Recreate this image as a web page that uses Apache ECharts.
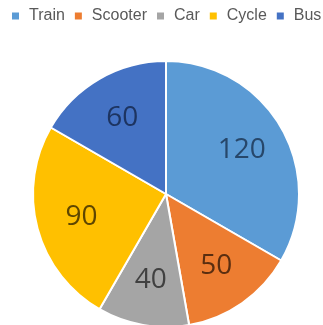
<!DOCTYPE html>
<html>
<head>
<meta charset="utf-8">
<script src="https://cdn.jsdelivr.net/npm/echarts@6/dist/echarts.min.js"></script>
<style>
  html, body { margin: 0; padding: 0; background: #fff; }
  #chart { width: 323px; height: 325px; }
</style>
</head>
<body>
<div id="chart"></div>
<script>
// Commute modes and their counts
const categories = ['Train', 'Scooter', 'Car', 'Cycle', 'Bus'];
const values = [120, 50, 40, 90, 60];

// Slice fills and the darker tone used for each slice's number
const sliceColors = ['#5B9BD5', '#ED7D31', '#A5A5A5', '#FFC000', '#4472C4'];
const labelColors = ['#27476a', '#5a2e10', '#404040', '#5e4600', '#1d3461'];

const LEGEND_FONT = '"Liberation Sans", Arial, sans-serif';
const LABEL_FONT = '"Open Sans", "Liberation Sans", sans-serif';

const chart = echarts.init(document.getElementById('chart'), null, { renderer: 'canvas' });

const sliceData = categories.map((name, i) => ({
  name,
  value: values[i],
  itemStyle: { color: sliceColors[i] }
}));

const labelData = categories.map((name, i) => ({
  name,
  value: values[i],
  label: { color: labelColors[i] }
}));

chart.setOption({
  animation: false,
  color: sliceColors,
  legend: {
    data: categories,
    top: 8,
    left: 12,
    width: 400,
    padding: 0,
    icon: 'rect',
    itemWidth: 7,
    itemHeight: 7,
    itemGap: 10,
    itemStyle: { borderWidth: 0, borderColor: 'rgba(0,0,0,0)' },
    textStyle: {
      fontFamily: LEGEND_FONT,
      fontSize: 16,
      color: '#595959',
      padding: [0, 0, 0, 5]
    }
  },
  series: [
    {
      type: 'pie',
      center: [166, 194],
      radius: [0, 133],
      startAngle: 90,
      clockwise: true,
      avoidLabelOverlap: false,
      label: { show: false },
      labelLine: { show: false },
      itemStyle: { borderColor: '#ffffff', borderWidth: 2 },
      emphasis: { disabled: true },
      data: sliceData
    },
    {
      // transparent ring that carries the value labels at mid-radius
      type: 'pie',
      center: [166, 194],
      radius: [36, 133],
      startAngle: 90,
      clockwise: true,
      silent: true,
      avoidLabelOverlap: false,
      legendHoverLink: false,
      itemStyle: { color: 'rgba(0,0,0,0)', borderWidth: 0 },
      label: {
        show: true,
        position: 'inside',
        formatter: '{c}',
        fontFamily: LABEL_FONT,
        fontSize: 28,
        fontWeight: 'normal'
      },
      labelLine: { show: false },
      emphasis: { disabled: true },
      data: labelData
    }
  ]
});
</script>
</body>
</html>
